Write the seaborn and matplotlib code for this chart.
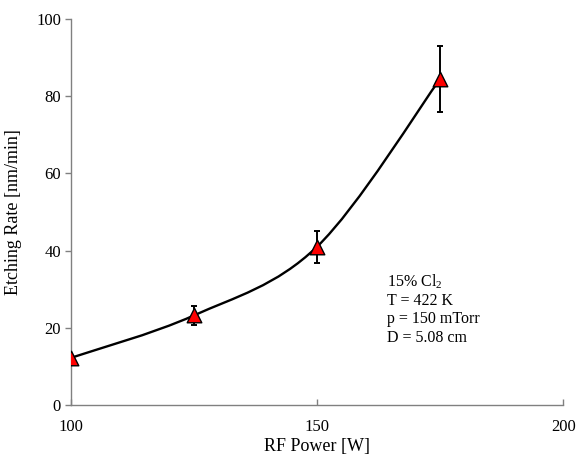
import numpy as np
import pandas as pd
import matplotlib
matplotlib.use("Agg")
import matplotlib.pyplot as plt
import seaborn as sns
from matplotlib.path import Path
from matplotlib.patches import PathPatch

# Data
rf_power = [100, 125, 150, 175]
etch_rate = [12.2, 23.2, 41.0, 84.5]
etch_err = [0.0, 2.4, 4.2, 8.5]
x_ticks = [100, 150, 200]
y_ticks = [0, 20, 40, 60, 80, 100]

df = pd.DataFrame({"RF Power [W]": rf_power, "Etching Rate [nm/min]": etch_rate, "err": etch_err})

sns.set_theme(style="white")
plt.rcParams["font.family"] = ["Liberation Serif", "DejaVu Serif"]
plt.rcParams["mathtext.fontset"] = "custom"
plt.rcParams["mathtext.rm"] = "Liberation Serif"
plt.rcParams["text.color"] = "black"
plt.rcParams["axes.labelcolor"] = "black"
plt.rcParams["xtick.labelcolor"] = "black"
plt.rcParams["ytick.labelcolor"] = "black"

fig = plt.figure(figsize=(5.76, 4.58), dpi=100)
ax = fig.add_axes([0.1227, 0.1157, 0.8553, 0.8428])

# Smoothed line (Catmull-Rom style Bezier segments, like a spreadsheet "smoothed line")
pts = np.column_stack([rf_power, etch_rate]).astype(float)
ext = np.vstack([pts[0], pts, pts[-1]])
verts = [tuple(pts[0])]
codes = [Path.MOVETO]
for i in range(1, len(ext) - 2):
    p0, p1, p2, p3 = ext[i - 1], ext[i], ext[i + 1], ext[i + 2]
    c1 = p1 + (p2 - p0) / 6.0
    c2 = p2 - (p3 - p1) / 6.0
    verts += [tuple(c1), tuple(c2), tuple(p2)]
    codes += [Path.CURVE4] * 3
ax.add_patch(PathPatch(Path(verts, codes), facecolor="none", edgecolor="black", lw=1.7, zorder=2))

ax.errorbar(df["RF Power [W]"], df["Etching Rate [nm/min]"], yerr=df["err"], fmt="none",
            ecolor="black", elinewidth=1.4, capsize=2, capthick=1.4, zorder=3)
sns.scatterplot(data=df, x="RF Power [W]", y="Etching Rate [nm/min]", marker="^", s=110,
                color="#ff0000", edgecolor="black", linewidth=1.0, zorder=4, ax=ax)

ax.set_xlim(100, 200)
ax.set_ylim(0, 100)
ax.set_xticks(x_ticks)
ax.set_yticks(y_ticks)
ax.set_xlabel("RF Power [W]", fontsize=13, labelpad=2)
ax.set_ylabel("Etching Rate [nm/min]", fontsize=13, labelpad=10)

for side in ["top", "right"]:
    ax.spines[side].set_visible(False)
for side in ["left", "bottom"]:
    ax.spines[side].set_color("#808080")
    ax.spines[side].set_linewidth(1.0)
ax.tick_params(axis="x", direction="in", length=4, width=1, color="#808080", labelsize=12, pad=10)
ax.tick_params(axis="y", direction="out", length=4, width=1, color="#808080", labelsize=12, pad=3)
ax.tick_params(left=True, bottom=True)

ax.text(164.2, 34.5, "15% Cl$_2$\nT = 422 K\np = 150 mTorr\nD = 5.08 cm",
        fontsize=11.5, va="top", ha="left", linespacing=1.2)

fig.savefig("out.png", dpi=100)
